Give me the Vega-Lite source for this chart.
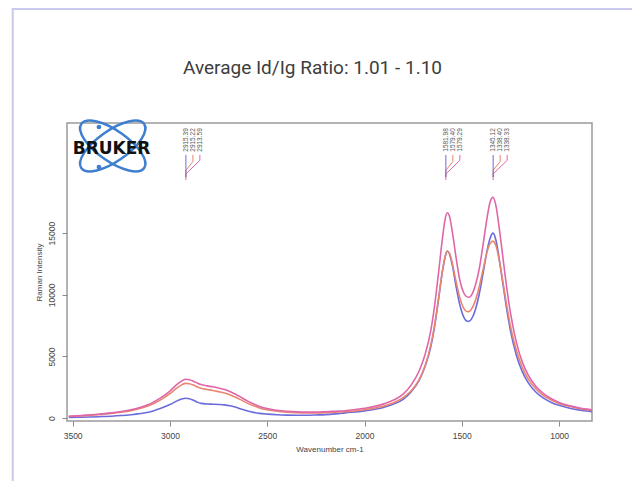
{
  "$schema": "https://vega.github.io/schema/vega-lite/v6.json",
  "width": 525,
  "height": 298,
  "autosize": {"type": "none"},
  "padding": {"left": 67, "top": 123, "right": 40, "bottom": 60},
  "background": "white",
  "title": {
    "text": "Average Id/Ig Ratio: 1.01 - 1.10",
    "font": "Roboto",
    "fontSize": 19,
    "fontWeight": "normal",
    "color": "#3d3d3d",
    "anchor": "middle",
    "frame": "group",
    "baseline": "bottom",
    "offset": -89,
    "dx": -17
  },
  "config": {"view": {"stroke": "#9a9a9a", "strokeWidth": 1.5}, "font": "Liberation Sans"},
  "encoding": {
    "x": {
      "field": "wn", "type": "quantitative",
      "scale": {"domain": [831, 3529], "reverse": true, "nice": false, "zero": false},
      "axis": {
        "values": [3500, 3000, 2500, 2000, 1500, 1000],
        "format": "d",
        "title": "Wavenumber cm-1",
        "domain": false, "grid": false, "tickSize": 5, "tickColor": "#8a8a8a",
        "labelFontSize": 8.5, "labelColor": "#444", "labelPadding": 5, "labelFlush": false,
        "titleFontSize": 8, "titleFontWeight": "normal", "titleColor": "#444", "titlePadding": 6
      }
    },
    "y": {
      "field": "intensity", "type": "quantitative",
      "scale": {"domain": [-230, 23930], "nice": false, "zero": false},
      "axis": {
        "values": [0, 5000, 10000, 15000],
        "format": "d",
        "title": "Raman Intensity",
        "domain": false, "grid": false, "tickSize": 5, "tickColor": "#8a8a8a",
        "labelAngle": 270, "labelAlign": "center", "labelBaseline": "bottom",
        "labelFontSize": 8.5, "labelColor": "#444", "labelPadding": 6, "labelFlush": false, "labelOverlap": false,
        "titleFontSize": 8, "titleFontWeight": "normal", "titleColor": "#444", "titlePadding": 4
      }
    }
  },
  "layer": [
    {
      "data": {"values": [{"wn": 3808, "wn2": 0, "intensity": 33170, "int2": -10000}]},
      "mark": {"type": "rect", "fillOpacity": 0, "stroke": "#c9c9ee", "strokeWidth": 2, "clip": false},
      "encoding": {"x2": {"field": "wn2"}, "y2": {"field": "int2"}}
    },
    {
      "data": {"values": [
        {"wn": 3520, "s1": 60, "s2": 130, "s3": 150},
        {"wn": 3450, "s1": 80, "s2": 190, "s3": 220},
        {"wn": 3400, "s1": 100, "s2": 240, "s3": 280},
        {"wn": 3350, "s1": 130, "s2": 300, "s3": 350},
        {"wn": 3300, "s1": 160, "s2": 380, "s3": 430},
        {"wn": 3250, "s1": 210, "s2": 480, "s3": 540},
        {"wn": 3200, "s1": 280, "s2": 610, "s3": 680},
        {"wn": 3150, "s1": 380, "s2": 800, "s3": 880},
        {"wn": 3100, "s1": 520, "s2": 1060, "s3": 1180},
        {"wn": 3050, "s1": 780, "s2": 1460, "s3": 1620},
        {"wn": 3000, "s1": 1100, "s2": 1980, "s3": 2200},
        {"wn": 2970, "s1": 1350, "s2": 2380, "s3": 2650},
        {"wn": 2940, "s1": 1550, "s2": 2700, "s3": 3000},
        {"wn": 2920, "s1": 1610, "s2": 2820, "s3": 3150},
        {"wn": 2900, "s1": 1580, "s2": 2790, "s3": 3120},
        {"wn": 2880, "s1": 1450, "s2": 2680, "s3": 3000},
        {"wn": 2860, "s1": 1300, "s2": 2540, "s3": 2850},
        {"wn": 2840, "s1": 1200, "s2": 2420, "s3": 2720},
        {"wn": 2810, "s1": 1150, "s2": 2330, "s3": 2620},
        {"wn": 2780, "s1": 1130, "s2": 2250, "s3": 2540},
        {"wn": 2750, "s1": 1110, "s2": 2150, "s3": 2440},
        {"wn": 2720, "s1": 1080, "s2": 2040, "s3": 2320},
        {"wn": 2690, "s1": 1000, "s2": 1880, "s3": 2150},
        {"wn": 2660, "s1": 880, "s2": 1680, "s3": 1920},
        {"wn": 2630, "s1": 720, "s2": 1440, "s3": 1650},
        {"wn": 2600, "s1": 580, "s2": 1200, "s3": 1380},
        {"wn": 2570, "s1": 470, "s2": 1000, "s3": 1150},
        {"wn": 2540, "s1": 390, "s2": 830, "s3": 950},
        {"wn": 2500, "s1": 330, "s2": 680, "s3": 780},
        {"wn": 2450, "s1": 280, "s2": 560, "s3": 640},
        {"wn": 2400, "s1": 250, "s2": 490, "s3": 560},
        {"wn": 2350, "s1": 240, "s2": 450, "s3": 510},
        {"wn": 2300, "s1": 240, "s2": 430, "s3": 490},
        {"wn": 2250, "s1": 260, "s2": 430, "s3": 490},
        {"wn": 2200, "s1": 290, "s2": 450, "s3": 520},
        {"wn": 2150, "s1": 350, "s2": 490, "s3": 560},
        {"wn": 2100, "s1": 428, "s2": 520, "s3": 605},
        {"wn": 2000, "s1": 588, "s2": 680, "s3": 798},
        {"wn": 1900, "s1": 886, "s2": 980, "s3": 1158},
        {"wn": 1850, "s1": 1145, "s2": 1250, "s3": 1470},
        {"wn": 1800, "s1": 1552, "s2": 1680, "s3": 1964},
        {"wn": 1760, "s1": 2150, "s2": 2220, "s3": 2700},
        {"wn": 1720, "s1": 3050, "s2": 3100, "s3": 3800},
        {"wn": 1690, "s1": 4150, "s2": 4180, "s3": 5100},
        {"wn": 1660, "s1": 5743, "s2": 5900, "s3": 7053},
        {"wn": 1640, "s1": 7430, "s2": 7550, "s3": 9104},
        {"wn": 1620, "s1": 9587, "s2": 9650, "s3": 11726},
        {"wn": 1600, "s1": 11876, "s2": 11900, "s3": 14508},
        {"wn": 1585, "s1": 13127, "s2": 13150, "s3": 16200},
        {"wn": 1575, "s1": 13550, "s2": 13520, "s3": 16650},
        {"wn": 1565, "s1": 13370, "s2": 13420, "s3": 16450},
        {"wn": 1550, "s1": 12489, "s2": 12650, "s3": 15234},
        {"wn": 1530, "s1": 10729, "s2": 11100, "s3": 13079},
        {"wn": 1510, "s1": 9172, "s2": 9750, "s3": 11169},
        {"wn": 1490, "s1": 8198, "s2": 8900, "s3": 10150},
        {"wn": 1475, "s1": 7872, "s2": 8650, "s3": 9850},
        {"wn": 1464, "s1": 7846, "s2": 8640, "s3": 9800},
        {"wn": 1450, "s1": 8054, "s2": 8850, "s3": 9980},
        {"wn": 1430, "s1": 8817, "s2": 9550, "s3": 10800},
        {"wn": 1410, "s1": 10110, "s2": 10700, "s3": 12137},
        {"wn": 1390, "s1": 11826, "s2": 12100, "s3": 14160},
        {"wn": 1370, "s1": 13606, "s2": 13500, "s3": 16263},
        {"wn": 1355, "s1": 14575, "s2": 14150, "s3": 17500},
        {"wn": 1340, "s1": 15000, "s2": 14350, "s3": 17900},
        {"wn": 1325, "s1": 14450, "s2": 14000, "s3": 17250},
        {"wn": 1310, "s1": 13142, "s2": 13000, "s3": 15699},
        {"wn": 1290, "s1": 11018, "s2": 11150, "s3": 13176},
        {"wn": 1270, "s1": 8898, "s2": 9200, "s3": 10661},
        {"wn": 1250, "s1": 7106, "s2": 7450, "s3": 8533},
        {"wn": 1220, "s1": 5121, "s2": 5500, "s3": 6168},
        {"wn": 1190, "s1": 3796, "s2": 4150, "s3": 4585},
        {"wn": 1160, "s1": 2904, "s2": 3200, "s3": 3524},
        {"wn": 1120, "s1": 2123, "s2": 2380, "s3": 2587},
        {"wn": 1080, "s1": 1620, "s2": 1830, "s3": 1989},
        {"wn": 1040, "s1": 1278, "s2": 1460, "s3": 1573},
        {"wn": 1000, "s1": 1038, "s2": 1190, "s3": 1276},
        {"wn": 950, "s1": 826, "s2": 960, "s3": 1025},
        {"wn": 900, "s1": 674, "s2": 790, "s3": 844},
        {"wn": 860, "s1": 583, "s2": 690, "s3": 736},
        {"wn": 830, "s1": 527, "s2": 630, "s3": 669}
      ]},
      "transform": [{"fold": ["s1", "s2", "s3"], "as": ["series", "intensity"]}],
      "mark": {"type": "line", "strokeWidth": 1.6, "interpolate": "monotone", "clip": true},
      "encoding": {
        "color": {"field": "series", "type": "nominal", "scale": {"domain": ["s1", "s2", "s3"], "range": ["#6b6bdb", "#e8866f", "#e066a8"]}, "legend": null}
      }
    },
    {
      "data": {"values": [
        {"conn": "a3", "series": "s3", "k": 1, "wn": 2918, "intensity": 19300},
        {"conn": "a3", "series": "s3", "k": 2, "wn": 2918, "intensity": 19800},
        {"conn": "a3", "series": "s3", "k": 3, "wn": 2846, "intensity": 20900},
        {"conn": "a3", "series": "s3", "k": 4, "wn": 2846, "intensity": 21340},
        {"conn": "a2", "series": "s2", "k": 1, "wn": 2918, "intensity": 19550},
        {"conn": "a2", "series": "s2", "k": 2, "wn": 2918, "intensity": 20100},
        {"conn": "a2", "series": "s2", "k": 3, "wn": 2882, "intensity": 20800},
        {"conn": "a2", "series": "s2", "k": 4, "wn": 2882, "intensity": 21340},
        {"conn": "a1", "series": "s1", "k": 1, "wn": 2918, "intensity": 19550},
        {"conn": "a1", "series": "s1", "k": 2, "wn": 2918, "intensity": 21340},
        {"conn": "b3", "series": "s3", "k": 1, "wn": 1582, "intensity": 19300},
        {"conn": "b3", "series": "s3", "k": 2, "wn": 1582, "intensity": 19800},
        {"conn": "b3", "series": "s3", "k": 3, "wn": 1510, "intensity": 20900},
        {"conn": "b3", "series": "s3", "k": 4, "wn": 1510, "intensity": 21340},
        {"conn": "b2", "series": "s2", "k": 1, "wn": 1582, "intensity": 19550},
        {"conn": "b2", "series": "s2", "k": 2, "wn": 1582, "intensity": 20100},
        {"conn": "b2", "series": "s2", "k": 3, "wn": 1546, "intensity": 20800},
        {"conn": "b2", "series": "s2", "k": 4, "wn": 1546, "intensity": 21340},
        {"conn": "b1", "series": "s1", "k": 1, "wn": 1582, "intensity": 19550},
        {"conn": "b1", "series": "s1", "k": 2, "wn": 1582, "intensity": 21340},
        {"conn": "c3", "series": "s3", "k": 1, "wn": 1339, "intensity": 19300},
        {"conn": "c3", "series": "s3", "k": 2, "wn": 1339, "intensity": 19800},
        {"conn": "c3", "series": "s3", "k": 3, "wn": 1267, "intensity": 20900},
        {"conn": "c3", "series": "s3", "k": 4, "wn": 1267, "intensity": 21340},
        {"conn": "c2", "series": "s2", "k": 1, "wn": 1339, "intensity": 19550},
        {"conn": "c2", "series": "s2", "k": 2, "wn": 1339, "intensity": 20100},
        {"conn": "c2", "series": "s2", "k": 3, "wn": 1303, "intensity": 20800},
        {"conn": "c2", "series": "s2", "k": 4, "wn": 1303, "intensity": 21340},
        {"conn": "c1", "series": "s1", "k": 1, "wn": 1339, "intensity": 19550},
        {"conn": "c1", "series": "s1", "k": 2, "wn": 1339, "intensity": 21340}
      ]},
      "mark": {"type": "line", "strokeWidth": 1},
      "encoding": {
        "detail": {"field": "conn"},
        "order": {"field": "k", "type": "quantitative"},
        "color": {"field": "series", "type": "nominal", "legend": null}
      }
    },
    {
      "data": {"values": [
        {"wn": 2918, "intensity": 21600, "label": "2915.39"},
        {"wn": 2882, "intensity": 21600, "label": "2915.22"},
        {"wn": 2846, "intensity": 21600, "label": "2913.59"},
        {"wn": 1582, "intensity": 21600, "label": "1581.98"},
        {"wn": 1546, "intensity": 21600, "label": "1579.40"},
        {"wn": 1510, "intensity": 21600, "label": "1579.29"},
        {"wn": 1339, "intensity": 21600, "label": "1345.12"},
        {"wn": 1303, "intensity": 21600, "label": "1338.40"},
        {"wn": 1267, "intensity": 21600, "label": "1338.33"}
      ]},
      "mark": {"type": "text", "angle": 270, "align": "left", "baseline": "middle", "fontSize": 6.5, "color": "#555"},
      "encoding": {"text": {"field": "label"}}
    },
    {
      "data": {"values": [{"wn": 3294, "intensity": 22065}]},
      "mark": {"type": "point", "shape": "M -1 0 A 1 0.4 0 1 1 1 0 A 1 0.4 0 1 1 -1 0 Z", "size": 5900, "angle": 35, "filled": false, "stroke": "#3f7fcf", "strokeWidth": 2.5, "opacity": 1, "clip": false}
    },
    {
      "data": {"values": [{"wn": 3294, "intensity": 22065}]},
      "mark": {"type": "point", "shape": "M -1 0 A 1 0.4 0 1 1 1 0 A 1 0.4 0 1 1 -1 0 Z", "size": 5900, "angle": -35, "filled": false, "stroke": "#3f7fcf", "strokeWidth": 2.5, "opacity": 1, "clip": false}
    },
    {
      "data": {"values": [{"wn": 3365, "intensity": 23605}, {"wn": 3365, "intensity": 20365}]},
      "mark": {"type": "circle", "size": 22, "color": "#3f7fcf", "opacity": 1, "clip": false}
    },
    {
      "data": {"values": [{"wn": 3300, "intensity": 21820, "name": "BRUKER"}]},
      "mark": {"type": "text", "font": "DejaVu Sans", "fontWeight": "bold", "fontSize": 17, "color": "#111", "align": "center", "baseline": "middle"},
      "encoding": {"text": {"field": "name"}}
    }
  ]
}
